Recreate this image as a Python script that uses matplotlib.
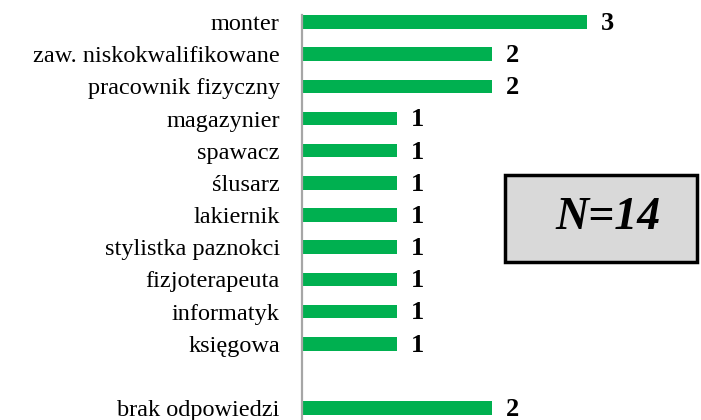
import numpy as np
import matplotlib.pyplot as plt
from matplotlib.patches import Rectangle

# answers (last one separated by an empty row)
categories = ['monter', 'zaw. niskokwalifikowane', 'pracownik fizyczny',
              'magazynier', 'spawacz', 'ślusarz', 'lakiernik',
              'stylistka paznokci', 'fizjoterapeuta', 'informatyk',
              'księgowa', 'brak odpowiedzi']
values = [3, 2, 2, 1, 1, 1, 1, 1, 1, 1, 1, 2]
n_total = 14

green = '#00B050'
plt.rcParams['font.family'] = ['Liberation Serif', 'DejaVu Serif']


def main():
    fig = plt.figure(figsize=(7.01, 4.20), dpi=100)
    ax = fig.add_axes([302 / 701, 0.0, 1 - 302 / 701, 1 - 15 / 420])

    # leave one empty slot before the last category
    ypos = np.arange(len(categories), dtype=float)
    ypos[-1] += 1

    ax.barh(ypos, values, height=0.42, color=green)
    for y, v in zip(ypos, values):
        ax.annotate(str(v), (v, y), xytext=(10, -1), textcoords='offset points',
                    ha='left', va='center', fontsize=19, fontweight='bold')

    ax.set_yticks(ypos)
    ax.set_yticklabels(categories, fontsize=17.5)
    ax.tick_params(axis='y', length=0, pad=16)
    ax.set_xticks([])
    ax.set_xlim(0, 4.2)
    ax.set_ylim(12.37, -0.218)

    for s in ['top', 'right', 'bottom']:
        ax.spines[s].set_visible(False)
    ax.spines['left'].set_color('#a6a6a6')
    ax.spines['left'].set_linewidth(1.6)

    # N box
    fig.patches.append(Rectangle((505 / 701, 1 - 262 / 420), 192 / 701, 87 / 420,
                                 transform=fig.transFigure, facecolor='#d9d9d9',
                                 edgecolor='black', linewidth=2.5))
    fig.text(608 / 701, 1 - 218 / 420, f'N={n_total}', ha='center', va='center',
             fontsize=33, fontweight='bold', fontstyle='italic')

    fig.savefig('out.png', dpi=100)


if __name__ == '__main__':
    main()
